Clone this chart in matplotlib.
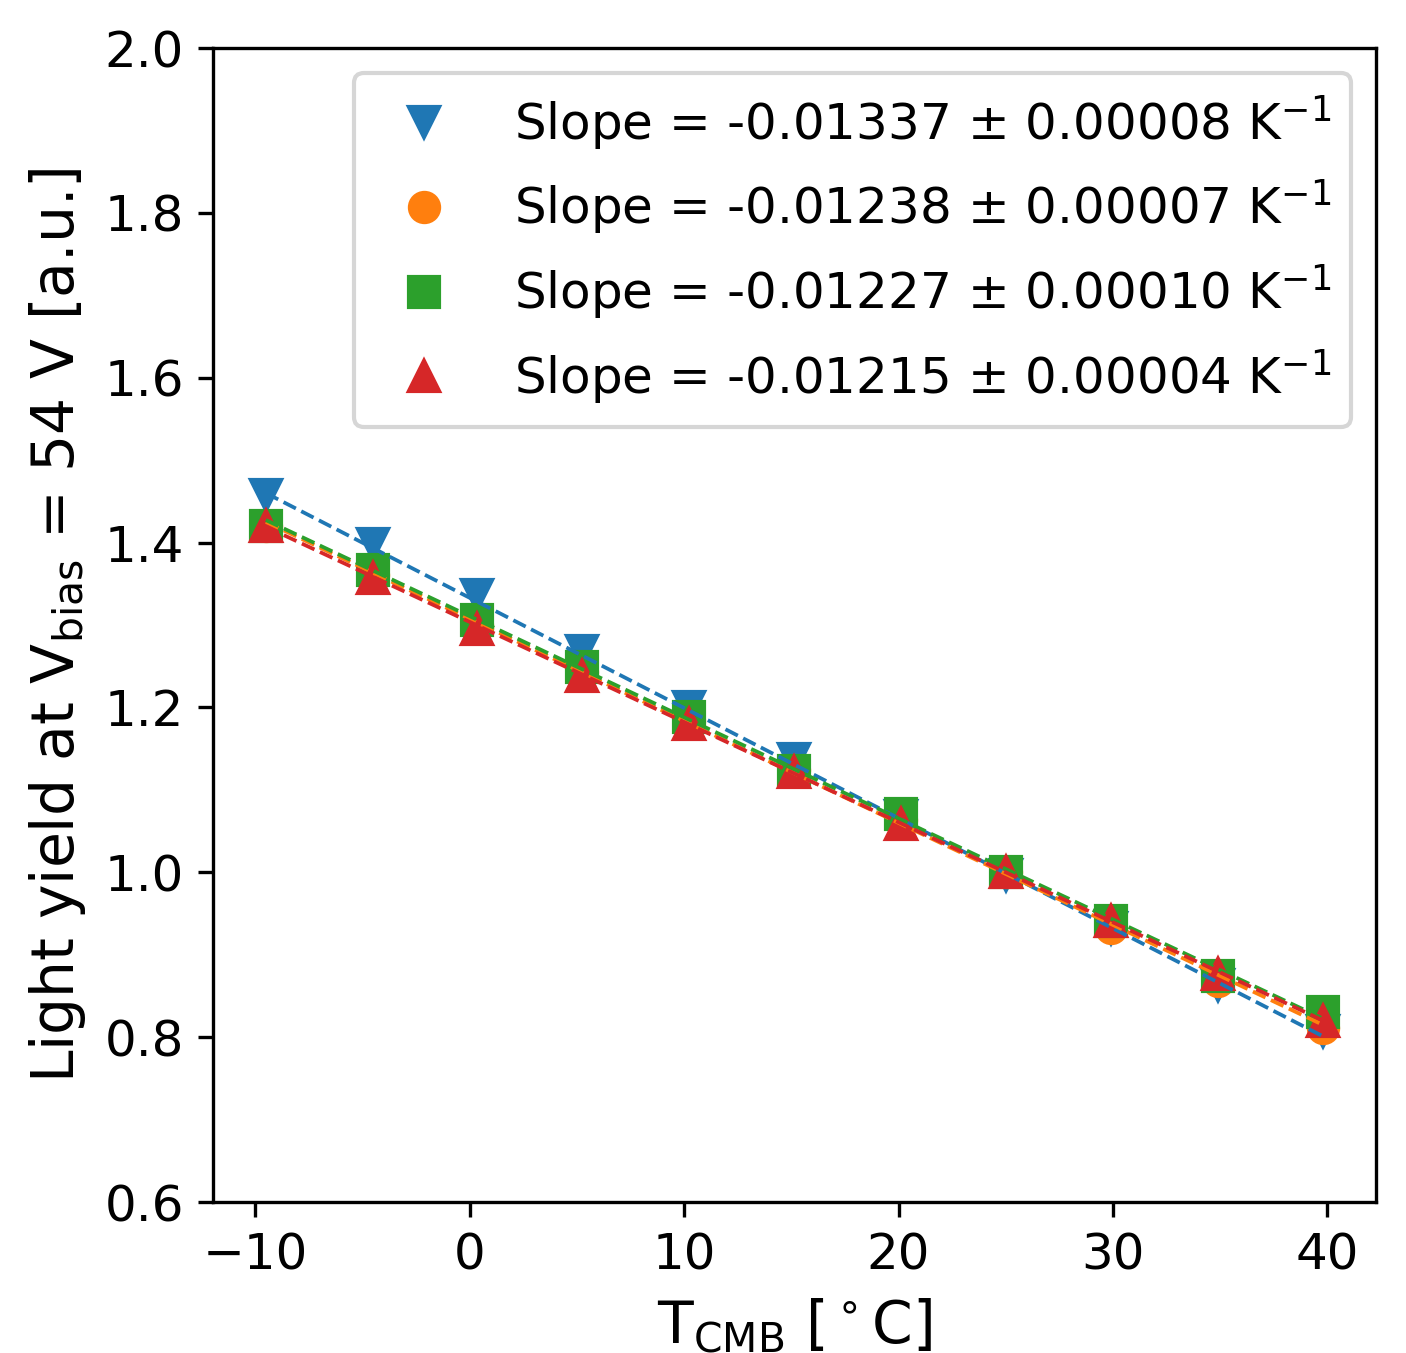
import numpy as np
import matplotlib.pyplot as plt

# Data
temps = np.array([-9.5, -4.5, 0.35, 5.25, 10.25, 15.15, 20.1, 25.0, 29.9, 34.9, 39.8])

ly_blue = np.array([1.4575, 1.3987, 1.336, 1.268, 1.200, 1.137, 1.068, 0.997, 0.932, 0.863, 0.808])
ly_orange = np.array([1.420, 1.361, 1.300, 1.243, 1.183, 1.124, 1.063, 1.000, 0.933, 0.868, 0.811])
ly_green = np.array([1.4205, 1.3665, 1.306, 1.2488, 1.188, 1.1226, 1.0704, 1.000, 0.9411, 0.8738, 0.830])
ly_red = np.array([1.420, 1.3574, 1.2949, 1.2379, 1.1796, 1.122, 1.0589, 1.000, 0.9406, 0.876, 0.819])

# fit results: slope per K and value at 25 C
slopes = [-0.01337, -0.01238, -0.01227, -0.01215]
slope_errs = [0.00008, 0.00007, 0.00010, 0.00004]
fit_at_25 = [0.9988, 0.998, 1.004, 1.000]

series = [ly_blue, ly_orange, ly_green, ly_red]
colors = ['tab:blue', 'tab:orange', 'tab:green', 'tab:red']
markers = ['v', 'o', 's', '^']

fig = plt.figure(figsize=(1406/300, 1353/300), dpi=300)
ax = fig.add_axes([213/1406, 1 - 1202/1353, (1376-213)/1406, (1202-48)/1353])

for ly, c, m, s, e in zip(series, colors, markers, slopes, slope_errs):
    ax.plot(temps, ly, linestyle='none', marker=m, color=c, markersize=7,
            label=f"Slope = {s:.5f} \u00b1 {e:.5f} K$^{{-1}}$")

for c, s, b in zip(colors, slopes, fit_at_25):
    ax.plot(temps, b + s * (temps - 25.0), '--', color=c, linewidth=0.9)

ax.set_ylim(0.6, 2.0)
ax.set_xticks([-10, 0, 10, 20, 30, 40])
ax.tick_params(labelsize=12)
ax.set_xlabel(r"T$_{\mathrm{CMB}}$ [$^\circ$C]", fontsize=14)
ax.set_ylabel(r"Light yield at V$_{\mathrm{bias}}$ = 54 V [a.u.]", fontsize=14)
ax.legend(loc='upper right', fontsize=12)

fig.savefig("out.png", dpi=300)
